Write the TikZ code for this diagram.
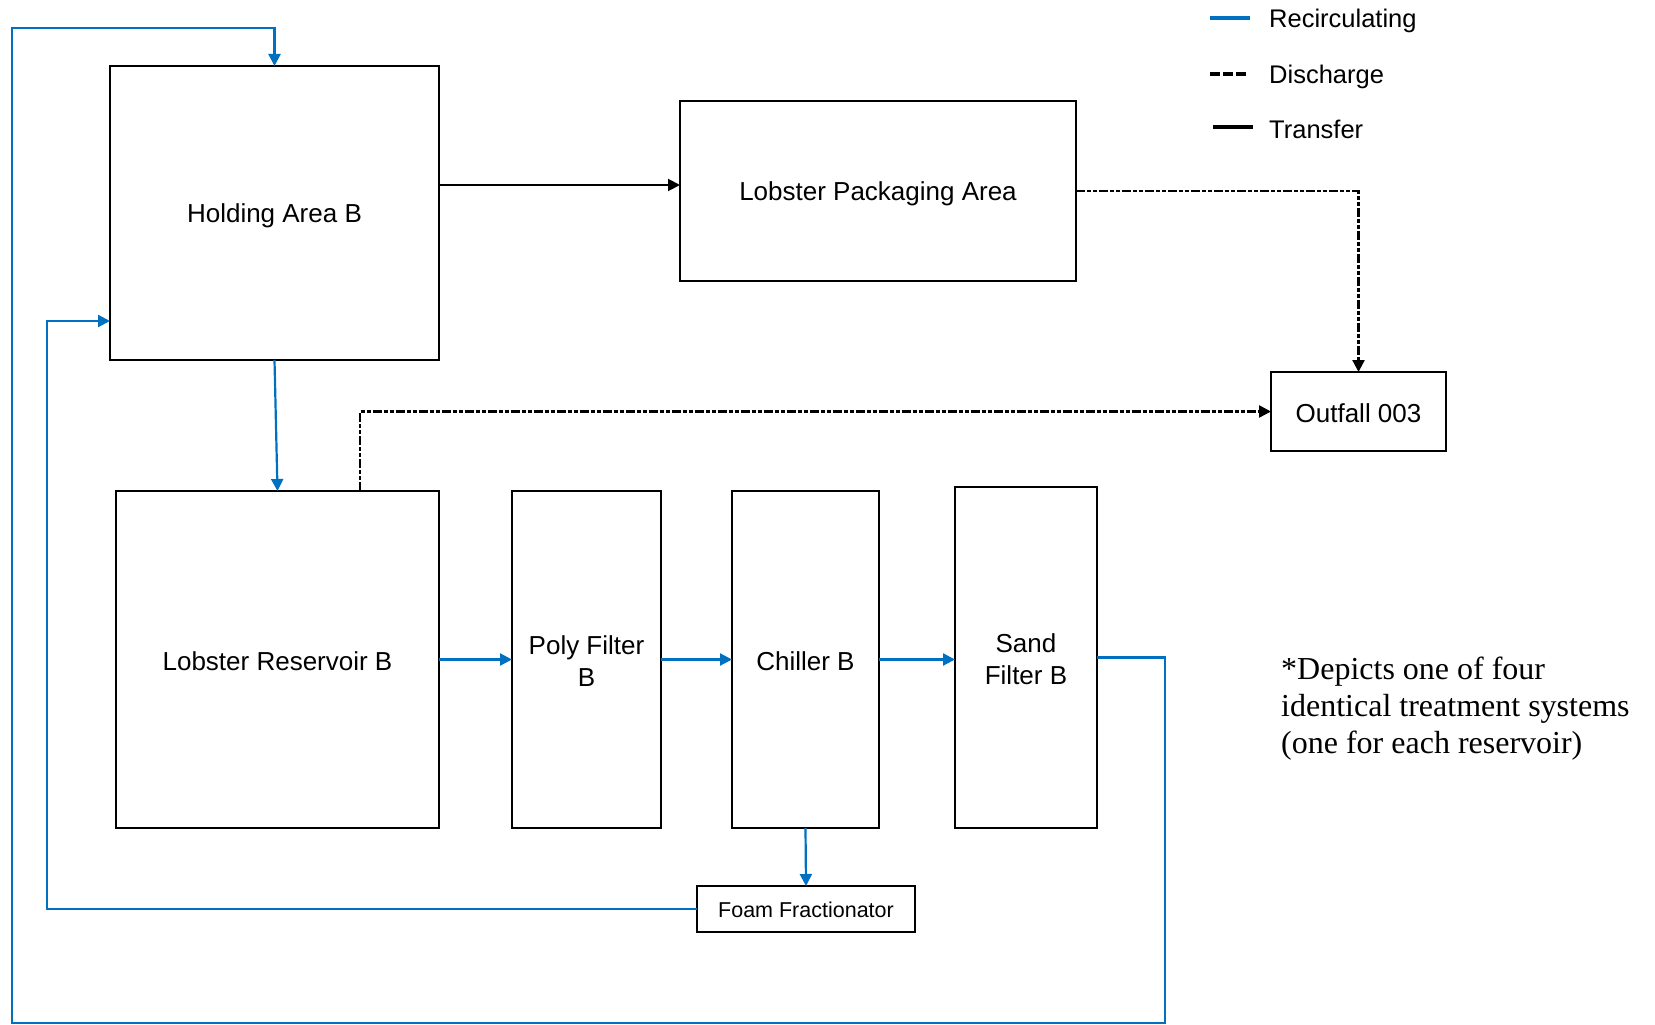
\documentclass[tikz,border=0pt]{standalone}
\usepackage{fontspec}
\setmainfont{Liberation Sans}
\newfontfamily\notefont{Liberation Serif}
\usetikzlibrary{arrows.meta,calc}
\definecolor{recblue}{RGB}{0,112,192}
\tikzset{
  box/.style={draw=black, line width=2.5pt, inner sep=0pt, outer sep=0pt},
  lbl/.style={align=center, inner sep=0pt, font=\fontsize{26}{32}\selectfont},
  recirc/.style={draw=recblue, line width=2.2pt, -{Triangle[length=12pt,width=12pt]}},
  recline/.style={draw=recblue, line width=2.2pt},
  transfer/.style={draw=black, line width=2pt, -{Triangle[length=12pt,width=12pt]}},
  discharge/.style={draw=black, line width=2.4pt, dash pattern=on 9pt off 2pt on 4pt off 2pt on 4pt off 2pt, -{Triangle[length=12pt,width=12pt]}},
  legtext/.style={anchor=west, inner sep=0pt, font=\fontsize{25.5}{30}\selectfont}
}
\begin{document}
\begin{tikzpicture}[x=1pt,y=-1pt]
\useasboundingbox (0,0) rectangle (1655,1025);
% boxes
\node[box, minimum width=329pt, minimum height=294pt, label={[lbl, yshift=-3pt]center:Holding Area B}] (hold) at (274.5,213) {};
\node[box, minimum width=396pt, minimum height=180pt, label={[lbl, yshift=-2.5pt]center:Lobster Packaging Area}] (pack) at (878,191) {};
\node[box, minimum width=175pt, minimum height=79pt, label={[lbl, yshift=-1.5pt]center:Outfall 003}] (out) at (1358.5,411.5) {};
\node[box, minimum width=323pt, minimum height=337pt, label={[lbl, yshift=-1.5pt]center:Lobster Reservoir B}] (res) at (277.5,659.5) {};
\node[box, minimum width=149pt, minimum height=337pt, label={[lbl, yshift=-1.5pt]center:{Poly Filter\\B}}] (poly) at (586.5,659.5) {};
\node[box, minimum width=147pt, minimum height=337pt, label={[lbl, yshift=-1.5pt]center:Chiller B}] (chill) at (805.5,659.5) {};
\node[box, minimum width=142pt, minimum height=341pt, label={[lbl, yshift=-1.5pt]center:{Sand\\Filter B}}] (sand) at (1026,657.5) {};
\node[box, minimum width=218pt, minimum height=46pt, label={[lbl, font=\fontsize{21.5}{26}\selectfont, yshift=-1pt]center:Foam Fractionator}] (foam) at (806,909) {};
% transfer
\coordinate (hp) at (439,185);
\draw[transfer] (hp -| hold.east) -- (hp -| pack.west);
% discharge
\draw[discharge] (pack.east) -- (out.north |- pack.east) -- (out.north);
\coordinate (rt) at (360,491);
\draw[discharge] (rt) -- (rt |- out.west) -- (out.west);
% recirculating
\draw[recirc] (hold.south) -- (res.north);
\draw[recirc] (res.east) -- (poly.west);
\draw[recirc] (poly.east) -- (chill.west);
\draw[recirc] (chill.east) -- (chill.east -| sand.west);
\draw[recirc] (chill.south) -- (foam.north);
\coordinate (fin) at (47,321);
\draw[recirc] (foam.west) -| (fin) -- (fin -| hold.west);
\coordinate (sr) at (1165,1023);
\coordinate (tl) at (12,28);
\draw[recirc] (sand.east) -| (sr) -| (tl) -| (hold.north);
% legend
\draw[recline, line width=4pt] (1210,18) -- (1250,18);
\node[legtext] (l1) at (1269,20.5) {Recirculating};
\draw[black, line width=4pt, dash pattern=on 10pt off 3pt] (1210,74) -- (1247,74);
\node[legtext] (l2) at (1269,76.5) {Discharge};
\draw[black, line width=3.5pt] (1213,127) -- (1253,127);
\node[legtext] (l3) at (1269,129.5) {Transfer};
% note
\node[anchor=north west, align=left, inner sep=0pt, font=\notefont\fontsize{32}{37}\selectfont] (note) at (1281,656.5) {*Depicts one of four\\identical treatment systems\\(one for each reservoir)};
\end{tikzpicture}
\end{document}
